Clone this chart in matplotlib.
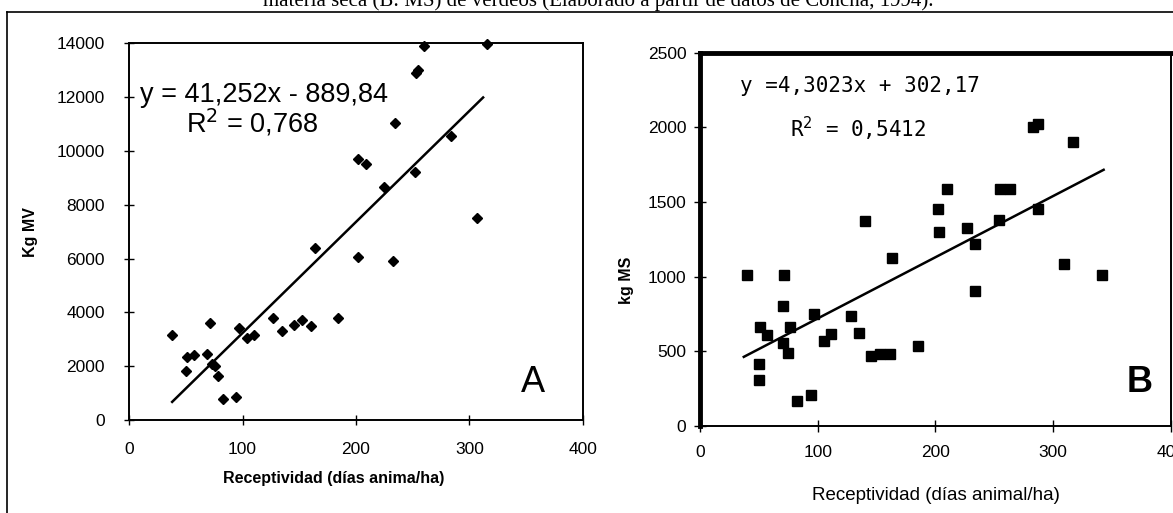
import matplotlib
matplotlib.use("Agg")
import matplotlib.pyplot as plt
from matplotlib.lines import Line2D

# Panel A: kg materia verde vs receptividad
a_x = [260, 315, 253, 255, 234, 202, 209, 284, 252, 225, 307, 164, 202, 233,
       38, 71, 97, 104, 110, 127, 135, 145, 152, 160, 184, 51, 57, 69, 50,
       73, 76, 78, 83, 94]
a_y = [13900, 13950, 12900, 13000, 11050, 9700, 9500, 10550, 9200, 8650, 7500,
       6400, 6060, 5910, 3160, 3620, 3430, 3040, 3160, 3800, 3310, 3550, 3700,
       3490, 3780, 2340, 2420, 2460, 1820, 2070, 2000, 1640, 770, 870]
a_slope, a_icpt = 41.252, -889.84
a_line_x = [38, 312]

# Panel B: kg materia seca vs receptividad
b_x = [283, 287, 317, 210, 255, 263, 202, 287, 140, 203, 227, 254, 234, 163,
       40, 71, 309, 342, 234, 70, 97, 128, 51, 57, 76, 135, 111, 105, 70, 75,
       145, 153, 161, 185, 50, 50, 82, 94]
b_y = [2000, 2020, 1900, 1590, 1585, 1590, 1450, 1450, 1370, 1300, 1325, 1380,
       1220, 1125, 1010, 1010, 1085, 1010, 905, 800, 750, 737, 665, 610, 665,
       625, 617, 570, 555, 485, 465, 483, 483, 535, 413, 308, 163, 208]
b_line_x = [37, 343]
b_line_y = [462, 1716]

x_ticks = [0, 100, 200, 300, 400]
a_yticks = [0, 2000, 4000, 6000, 8000, 10000, 12000, 14000]
b_yticks = [0, 500, 1000, 1500, 2000, 2500]

caption = ("materia seca (B: MS) de verdeos (Elaborado a partir de datos de "
           "Concha, 1994).")

sans = ["Liberation Sans", "DejaVu Sans"]

fig = plt.figure(figsize=(11.73, 5.13), dpi=100)

# scanned page frame and the caption line, cut at the top like the scan
fig.add_artist(Line2D([0.006, 1.0], [0.976, 0.976], color="black", lw=1.2))
fig.add_artist(Line2D([0.006, 0.006], [0.0, 0.976], color="black", lw=1.2))
fig.text(0.51, 0.988, caption, ha="center", va="baseline",
         family="Liberation Serif", fontsize=15)

# ---- panel A ----
ax1 = fig.add_axes([0.110, 0.181, 0.387, 0.735])
ax1.plot(a_x, a_y, "D", color="black", ms=5.5, clip_on=False)
ax1.plot(a_line_x, [a_slope * v + a_icpt for v in a_line_x],
         color="black", lw=1.8)
ax1.set_xlim(0, 400)
ax1.set_ylim(0, 14000)
ax1.set_xticks(x_ticks)
ax1.set_yticks(a_yticks)
ax1.tick_params(direction="inout", length=7, width=1, labelsize=12.5,
                pad=14)
ax1.tick_params(axis="x", pad=12)
for lab in ax1.get_xticklabels() + ax1.get_yticklabels():
    lab.set_family(sans)
for s in ax1.spines.values():
    s.set_linewidth(1.4)
ax1.spines["right"].set_linestyle((0, (6, 1)))
ax1.set_xlabel("Receptividad (días anima/ha)", family=sans, fontsize=11.5,
               fontweight="bold")
ax1.xaxis.set_label_coords(0.45, -0.135)
ax1.set_ylabel("Kg MV", family=sans, fontsize=11.5, fontweight="bold")
ax1.yaxis.set_label_coords(-0.20, 0.50)
ax1.text(0.025, 0.862, "y = 41,252x - 889,84", transform=ax1.transAxes,
         family=sans, fontsize=19.5, va="center")
ax1.text(0.125, 0.790, "R$^2$ = 0,768", transform=ax1.transAxes,
         family=sans, fontsize=19.5, va="center")
ax1.text(0.89, 0.10, "A", transform=ax1.transAxes, family=sans,
         fontsize=26, ha="center", va="center")

# ---- panel B ----
ax2 = fig.add_axes([0.597, 0.170, 0.401, 0.727])
ax2.plot(b_x, b_y, "s", color="black", ms=6.5, clip_on=False)
ax2.plot(b_line_x, b_line_y, color="black", lw=1.8)
ax2.set_xlim(0, 400)
ax2.set_ylim(0, 2500)
ax2.set_xticks(x_ticks)
ax2.set_yticks(b_yticks)
ax2.tick_params(direction="inout", length=8, width=1, labelsize=12.5,
                pad=6)
ax2.tick_params(axis="x", pad=10)
for lab in ax2.get_xticklabels() + ax2.get_yticklabels():
    lab.set_family(sans)
ax2.spines["left"].set_linewidth(3.5)
ax2.spines["top"].set_linewidth(3.5)
ax2.spines["bottom"].set_linewidth(1.4)
ax2.spines["right"].set_linewidth(1.4)
ax2.set_xlabel("Receptividad (días animal/ha)", family=sans, fontsize=13.5)
ax2.xaxis.set_label_coords(0.50, -0.165)
ax2.set_ylabel("kg MS", family=sans, fontsize=11.5, fontweight="bold")
ax2.yaxis.set_label_coords(-0.14, 0.39)
ax2.text(0.085, 0.91, "y =4,3023x + 302,17", transform=ax2.transAxes,
         family="DejaVu Sans Mono", fontsize=15, va="center")
ax2.text(0.19, 0.795, "R$^2$ = 0,5412", transform=ax2.transAxes,
         family="DejaVu Sans Mono", fontsize=15, va="center")
ax2.text(0.935, 0.115, "B", transform=ax2.transAxes, family=sans,
         fontsize=26, fontweight="bold", ha="center", va="center")

fig.savefig("out.png", dpi=100, facecolor="white")
